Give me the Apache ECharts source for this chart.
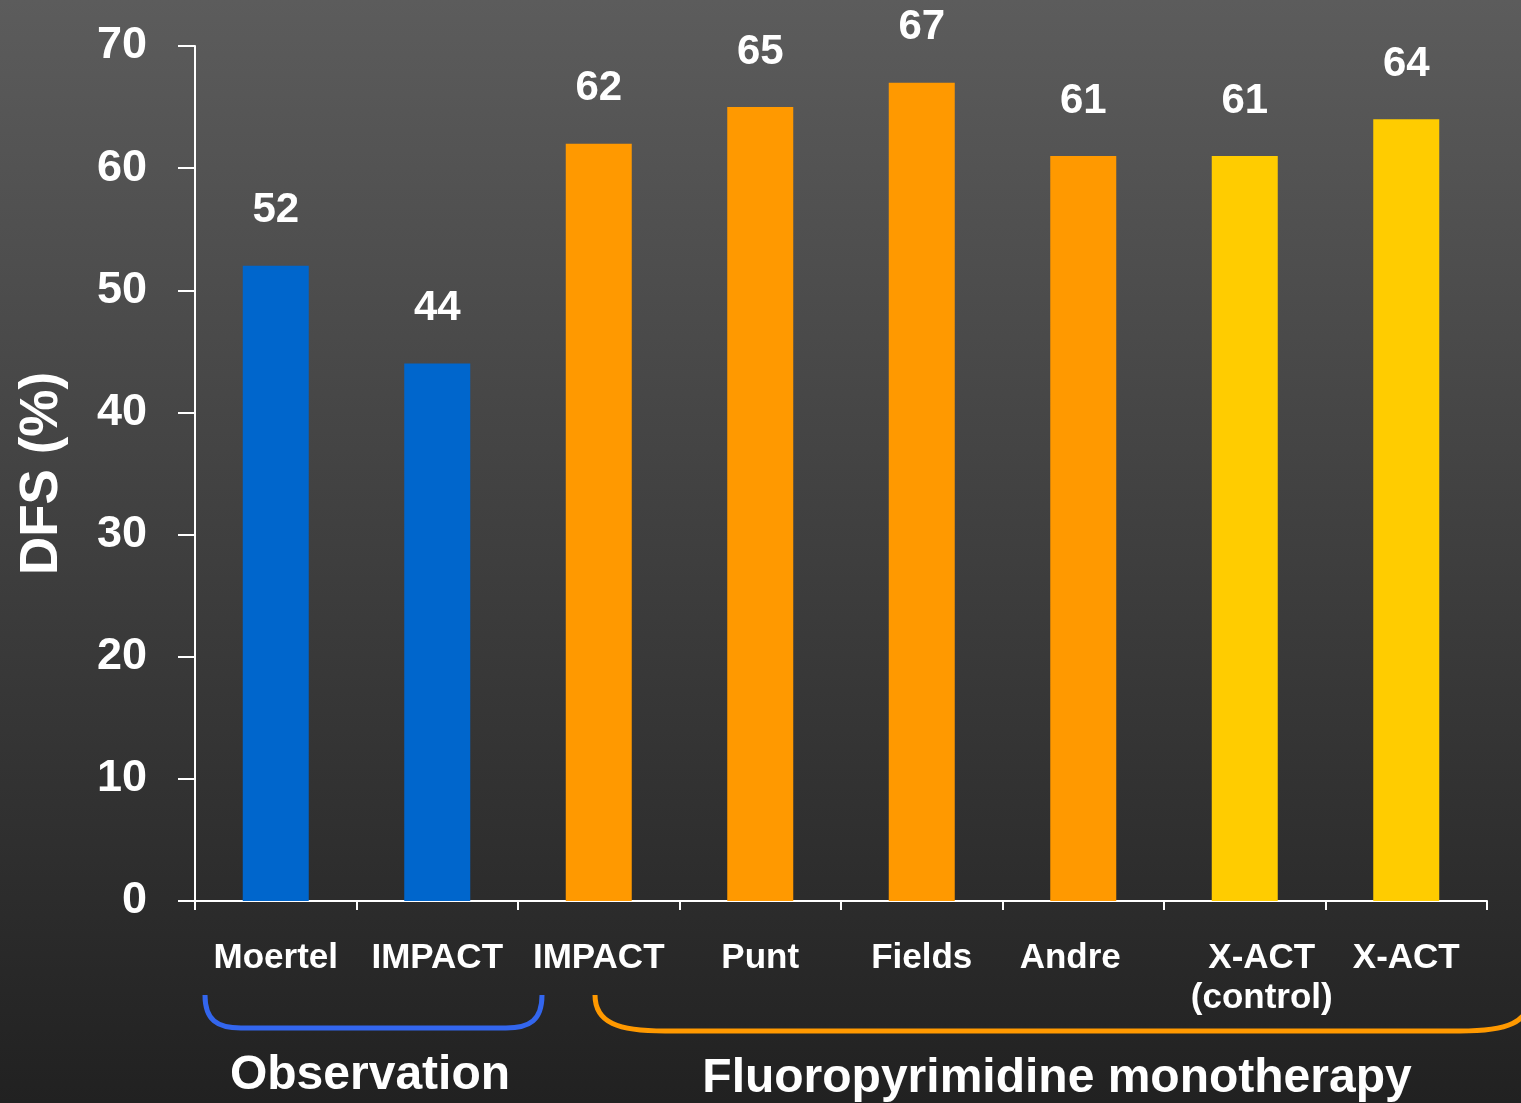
<!DOCTYPE html>
<html>
<head>
<meta charset="utf-8">
<script src="https://cdn.jsdelivr.net/npm/echarts@6/dist/echarts.min.js"></script>
<style>
    html, body { margin: 0; padding: 0; }
    #chart { width: 1521px; height: 1103px; }
</style>
</head>
<body>
<div id="chart"></div>
<script>
    // data
    const categories = ['Moertel', 'IMPACT', 'IMPACT', 'Punt', 'Fields', 'Andre', 'X-ACT\n(control)', 'X-ACT'];
    const dfs = [52, 44, 62, 65, 67, 61, 61, 64];
    const groupOf = ['obs', 'obs', 'fp', 'fp', 'fp', 'fp', 'xact', 'xact'];
    const groupLabels = ['Observation', 'Fluoropyrimidine monotherapy'];
    const yTicks = [0, 10, 20, 30, 40, 50, 60, 70];

    const colorOf = {obs: '#0066CC', fp: '#FF9900', xact: '#FFCC00'};
    const font = 'Liberation Sans, Arial, sans-serif';
    // labels a bit off-centre in the original slide
    const labelPad = {5: [0, 26, 0, 0], 6: [0, 0, 0, 34]};

    // bracket = left curve, straight bottom, right curve
    function bracket(x1, x2, top, bottom, rx, color) {
        const style = {stroke: color, lineWidth: 5, fill: null};
        return [
            {type: 'bezierCurve', style: style, shape: {
                x1: x1, y1: top, cpx1: x1, cpy1: bottom - 8, cpx2: x1 + rx / 3, cpy2: bottom,
                x2: x1 + rx, y2: bottom}},
            {type: 'line', style: style, shape: {x1: x1 + rx, y1: bottom, x2: x2 - rx, y2: bottom}},
            {type: 'bezierCurve', style: style, shape: {
                x1: x2 - rx, y1: bottom, cpx1: x2 - rx / 3, cpy1: bottom, cpx2: x2, cpy2: bottom - 8,
                x2: x2, y2: top}}
        ];
    }

    const chart = echarts.init(document.getElementById('chart'));
    chart.setOption({
        backgroundColor: {
            type: 'linear', x: 0, y: 0, x2: 0, y2: 1,
            colorStops: [
                {offset: 0, color: '#5c5c5c'},
                {offset: 1, color: '#212121'}
            ]
        },
        animation: false,
        grid: {left: 195, right: 34, top: 46, bottom: 202, containLabel: false, outerBoundsMode: 'none'},
        xAxis: {
            type: 'category',
            data: categories.map((c, i) => labelPad[i]
                ? {value: c, textStyle: {padding: labelPad[i]}}
                : c),
            axisLine: {lineStyle: {color: '#ffffff', width: 2}},
            axisTick: {show: true, length: 9, lineStyle: {color: '#ffffff', width: 2}},
            axisLabel: {
                color: '#ffffff', fontSize: 35, fontWeight: 'bold', fontFamily: font,
                margin: 37, interval: 0, lineHeight: 40, verticalAlign: 'top'
            }
        },
        yAxis: {
            type: 'value',
            min: yTicks[0],
            max: yTicks[yTicks.length - 1],
            interval: 10,
            name: 'DFS (%)',
            nameLocation: 'middle',
            nameRotate: 90,
            nameGap: 126,
            nameTextStyle: {color: '#ffffff', fontSize: 53, fontWeight: 'bold', fontFamily: font},
            axisLine: {show: true, lineStyle: {color: '#ffffff', width: 2}},
            axisTick: {show: true, length: 17, lineStyle: {color: '#ffffff', width: 2}},
            splitLine: {show: false},
            axisLabel: {
                color: '#ffffff', fontSize: 45, fontWeight: 'bold', fontFamily: font, margin: 48
            }
        },
        series: [{
            type: 'bar',
            barWidth: 66,
            data: dfs.map((v, i) => ({value: v, itemStyle: {color: colorOf[groupOf[i]]}})),
            label: {
                show: true,
                position: 'top',
                distance: 34,
                color: '#ffffff',
                fontSize: 42,
                fontWeight: 'bold',
                fontFamily: font
            }
        }],
        graphic: [].concat(
            bracket(205, 542, 995, 1028, 36, '#3366EE'),
            bracket(595, 1530, 995, 1031, 70, '#FF9900'),
            [
                {
                    type: 'text', x: 370, y: 1076,
                    style: {
                        text: groupLabels[0], fill: '#ffffff', font: 'bold 48px ' + font,
                        textAlign: 'center', textVerticalAlign: 'middle'
                    }
                },
                {
                    type: 'text', x: 1057, y: 1079,
                    style: {
                        text: groupLabels[1], fill: '#ffffff', font: 'bold 48px ' + font,
                        textAlign: 'center', textVerticalAlign: 'middle'
                    }
                }
            ]
        )
    });
</script>
</body>
</html>
